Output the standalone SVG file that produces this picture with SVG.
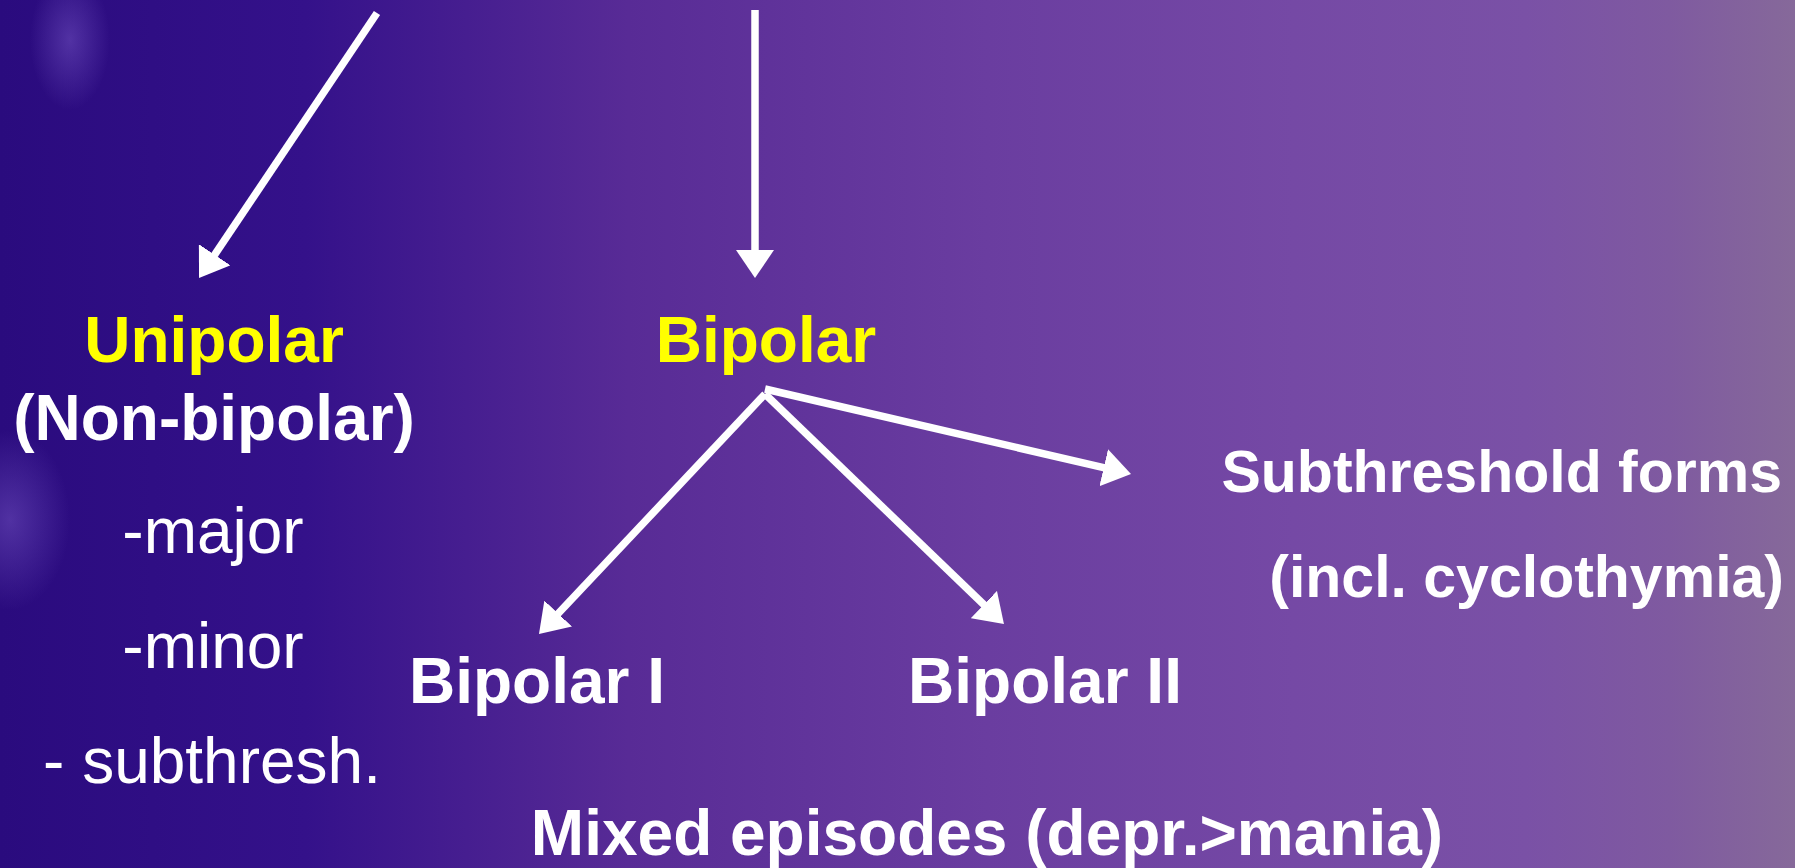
<svg xmlns="http://www.w3.org/2000/svg" width="1795" height="868" viewBox="0 0 1795 868">
  <defs>
    <linearGradient id="bg" x1="0" y1="0" x2="1" y2="0">
      <stop offset="0" stop-color="#2a0b7e"/>
      <stop offset="0.17" stop-color="#34118a"/>
      <stop offset="0.35" stop-color="#582b96"/>
      <stop offset="0.55" stop-color="#6a3da0"/>
      <stop offset="0.72" stop-color="#7549a5"/>
      <stop offset="0.85" stop-color="#7a51a6"/>
      <stop offset="0.93" stop-color="#7f5aa0"/>
      <stop offset="1" stop-color="#86699a"/>
    </linearGradient>
    <radialGradient id="glow1" cx="0.5" cy="0.5" r="0.5">
      <stop offset="0" stop-color="#8a6ad8" stop-opacity="0.4"/>
      <stop offset="1" stop-color="#8a6ad8" stop-opacity="0"/>
    </radialGradient>
    <marker id="ah" viewBox="0 0 28 38" refX="1" refY="19" markerWidth="28" markerHeight="38" markerUnits="userSpaceOnUse" orient="auto">
      <path d="M0,0 L28,19 L0,38 z" fill="#ffffff"/>
    </marker>
    <style>
      .t { font-family: "Liberation Sans", Arial, sans-serif; font-size: 64px; fill: #ffffff; text-anchor: middle; }
      .b { font-weight: bold; }
      .y { fill: #ffff00; }
      .s { font-size: 59px; text-anchor: end; }
      .c { fill: none; stroke: #ffffff; stroke-width: 7.5; marker-end: url(#ah); }
    </style>
  </defs>
  <rect x="0" y="0" width="1795" height="868" fill="url(#bg)"/>
  <ellipse cx="70" cy="40" rx="40" ry="70" fill="url(#glow1)"/>
  <ellipse cx="10" cy="520" rx="60" ry="90" fill="url(#glow1)"/>

  <g id="connectors">
    <line class="c" x1="377" y1="13" x2="214.1" y2="255.6"/>
    <line class="c" x1="755" y1="10" x2="755" y2="251"/>
    <line class="c" x1="765" y1="394" x2="557.5" y2="614.3"/>
    <line class="c" x1="765" y1="394" x2="984.5" y2="605.3"/>
    <line class="c" x1="765" y1="389" x2="1104.7" y2="467.9"/>
  </g>

  <g id="unipolar">
    <text class="t b y" x="214" y="362">Unipolar</text>
    <text class="t b" x="214" y="440">(Non-bipolar)</text>
    <text class="t" x="213" y="553">-major</text>
    <text class="t" x="213" y="668">-minor</text>
    <text class="t" x="212" y="783">- subthresh.</text>
  </g>
  <g id="bipolar">
    <text class="t b y" x="766" y="362">Bipolar</text>
  </g>
  <g id="bipolar-i">
    <text class="t b" x="537" y="703">Bipolar I</text>
  </g>
  <g id="bipolar-ii">
    <text class="t b" x="1045" y="703">Bipolar II</text>
  </g>
  <g id="subthreshold">
    <text class="t b s" x="1782" y="492">Subthreshold forms</text>
    <text class="t b s" x="1784" y="597">(incl. cyclothymia)</text>
  </g>
  <g id="mixed">
    <text class="t b" x="987" y="855">Mixed episodes (depr.&gt;mania)</text>
  </g>
</svg>
